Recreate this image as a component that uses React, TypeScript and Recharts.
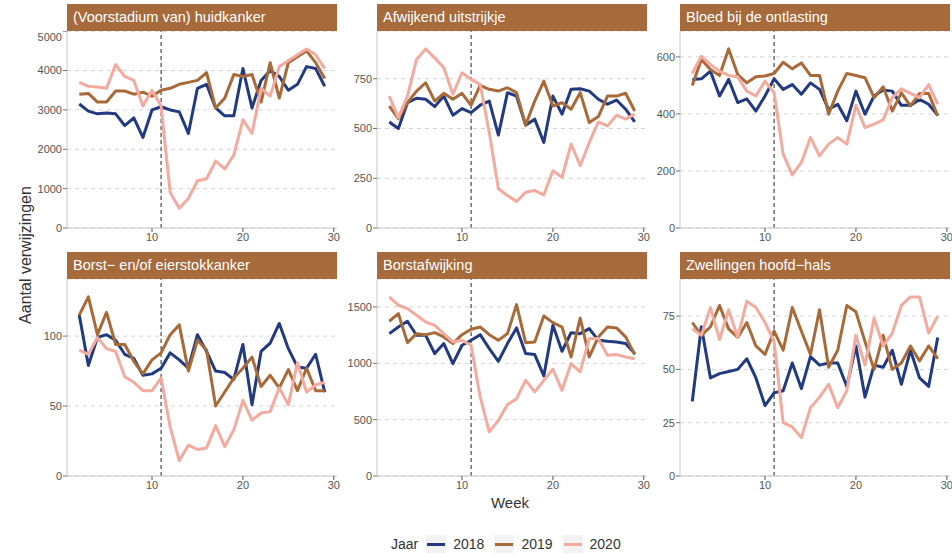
import {
  CartesianGrid,
  Line,
  LineChart,
  ReferenceLine,
  XAxis,
  YAxis,
} from "recharts";

const weeks = [2, 3, 4, 5, 6, 7, 8, 9, 10, 11, 12, 13, 14, 15, 16, 17, 18, 19, 20, 21, 22, 23, 24, 25, 26, 27, 28, 29];
const years = ["2018", "2019", "2020"];

const huid2018 = [3150, 2970, 2900, 2920, 2900, 2600, 2800, 2300, 3000, 3080, 3000, 2950, 2400, 3550, 3650, 3050, 2850, 2850, 4050, 3050, 3750, 4000, 3850, 3500, 3650, 4100, 4050, 3600];
const huid2019 = [3400, 3420, 3200, 3200, 3480, 3480, 3400, 3450, 3350, 3500, 3550, 3650, 3700, 3750, 3950, 3050, 3300, 3900, 3850, 3900, 3200, 4200, 3300, 4200, 4350, 4500, 4200, 3800];
const huid2020 = [3700, 3600, 3580, 3550, 4150, 3850, 3750, 3100, 3500, 3100, 900, 500, 750, 1200, 1250, 1700, 1500, 1850, 2750, 2400, 3550, 3350, 4100, 4250, 4400, 4550, 4400, 4050];

const uitstrijk2018 = [533, 500, 630, 652, 647, 610, 663, 567, 600, 580, 617, 638, 467, 680, 663, 517, 547, 430, 663, 572, 697, 700, 688, 647, 622, 643, 597, 533];
const uitstrijk2019 = [613, 550, 630, 688, 730, 638, 677, 647, 677, 617, 717, 697, 688, 705, 680, 517, 638, 738, 613, 630, 597, 680, 530, 560, 663, 663, 677, 588];
const uitstrijk2020 = [663, 555, 663, 847, 900, 855, 805, 672, 780, 747, 722, 480, 197, 163, 133, 180, 188, 167, 288, 255, 422, 313, 430, 533, 513, 567, 547, 572];

const bloed2018 = [521, 523, 550, 463, 521, 440, 453, 410, 463, 523, 486, 503, 469, 509, 486, 416, 434, 376, 480, 399, 463, 484, 480, 430, 430, 451, 434, 395];
const bloed2019 = [500, 591, 556, 535, 628, 538, 509, 530, 533, 542, 581, 558, 579, 535, 535, 399, 480, 542, 535, 527, 457, 495, 410, 474, 428, 472, 472, 393];
const bloed2020 = [542, 602, 573, 550, 535, 530, 480, 463, 515, 474, 259, 186, 230, 317, 253, 294, 317, 294, 430, 352, 364, 379, 457, 488, 472, 457, 503, 434];

const borst2018 = [115, 79, 99, 101, 97, 87, 84, 72, 73, 77, 88, 83, 77, 101, 89, 75, 74, 69, 94, 51, 89, 95, 109, 91, 78, 77, 87, 60];
const borst2019 = [115, 128, 101, 117, 94, 94, 82, 73, 83, 88, 101, 108, 75, 97, 90, 50, 60, 70, 77, 85, 64, 72, 63, 76, 61, 77, 61, 61];
const borst2020 = [90, 87, 99, 91, 89, 71, 67, 61, 61, 70, 35, 11, 22, 19, 20, 36, 21, 33, 54, 40, 45, 46, 63, 51, 81, 60, 65, 67];

const borstafw2018 = [1263, 1322, 1373, 1249, 1249, 1086, 1175, 997, 1160, 1204, 1254, 1130, 1018, 1175, 1314, 1086, 1077, 888, 1337, 1107, 1272, 1263, 1308, 1204, 1195, 1189, 1175, 1086];
const borstafw2019 = [1373, 1441, 1183, 1263, 1254, 1272, 1234, 1175, 1254, 1302, 1322, 1254, 1204, 1263, 1521, 1183, 1189, 1420, 1361, 1322, 1056, 1402, 1056, 1234, 1322, 1314, 1234, 1077];
const borstafw2020 = [1589, 1515, 1485, 1426, 1367, 1337, 1263, 1189, 1204, 1160, 701, 391, 494, 633, 686, 849, 746, 849, 947, 760, 997, 923, 1219, 1219, 1071, 1077, 1056, 1041];

const zwel2018 = [35, 70, 46, 48, 49, 50, 55, 46, 33, 39, 40, 53, 41, 56, 52, 53, 53, 42, 61, 37, 52, 51, 59, 43, 59, 46, 42, 65];
const zwel2019 = [72, 66, 70, 80, 69, 65, 72, 61, 57, 68, 59, 79, 68, 57, 78, 51, 59, 80, 77, 63, 50, 66, 50, 53, 61, 54, 61, 55];
const zwel2020 = [69, 66, 79, 64, 78, 65, 82, 79, 72, 63, 25, 23, 18, 32, 37, 43, 32, 40, 66, 52, 74, 61, 67, 80, 84, 84, 67, 75];

const panelTitles = [
  "(Voorstadium van) huidkanker",
  "Afwijkend uitstrijkje",
  "Bloed bij de ontlasting",
  "Borst\u2212 en/of eierstokkanker",
  "Borstafwijking",
  "Zwellingen hoofd\u2212hals",
];
const panelTicks = [
  [0, 1000, 2000, 3000, 4000, 5000],
  [0, 250, 500, 750],
  [0, 200, 400, 600],
  [0, 50, 100],
  [0, 500, 1000, 1500],
  [0, 25, 50, 75],
];
const panelSeries = [
  [huid2018, huid2019, huid2020],
  [uitstrijk2018, uitstrijk2019, uitstrijk2020],
  [bloed2018, bloed2019, bloed2020],
  [borst2018, borst2019, borst2020],
  [borstafw2018, borstafw2019, borstafw2020],
  [zwel2018, zwel2019, zwel2020],
];
const xTicks = [10, 20, 30];
const lockdownWeek = 11;

const COLORS = ["#213a80", "#a86a38", "#f3aa9f"];
const STRIP = "#a66a3b";
const FONT = '"Liberation Sans", Arial, sans-serif';

const COL_LEFT = [67, 377, 680];
const ROW_STRIP = [4, 252];
const PLOT_W = 270;
const PLOT_H = 197;
const STRIP_H = 27;
const Y_AXIS_W = 45;
const X_AXIS_H = 25;

const Panel = ({ index }: { index: number }) => {
  const series = panelSeries[index];
  const data = weeks.map((week, i) => ({
    week,
    y2018: series[0][i],
    y2019: series[1][i],
    y2020: series[2][i],
  }));
  const yMax = Math.max(...series.flat()) * 1.1;
  const col = index % 3;
  const row = Math.floor(index / 3);
  const left = COL_LEFT[col];
  const stripTop = ROW_STRIP[row];

  return (
    <>
      <div
        style={{
          position: "absolute",
          left,
          top: stripTop,
          width: PLOT_W,
          height: STRIP_H,
          background: STRIP,
          color: "#ffffff",
          fontSize: 14.5,
          lineHeight: `${STRIP_H}px`,
          paddingLeft: 6,
          boxSizing: "border-box",
          whiteSpace: "nowrap",
        }}
      >
        {panelTitles[index]}
      </div>
      <div
        style={{
          position: "absolute",
          left: left - Y_AXIS_W,
          top: stripTop + STRIP_H,
        }}
      >
        <LineChart
          width={Y_AXIS_W + PLOT_W + 5}
          height={PLOT_H + X_AXIS_H}
          data={data}
          margin={{ top: 0, right: 5, bottom: 0, left: 0 }}
        >
          <CartesianGrid
            vertical={false}
            stroke="#d3d3d3"
            strokeDasharray="4 4"
          />
          <XAxis
            dataKey="week"
            type="number"
            domain={[0.65, 30.35]}
            ticks={xTicks}
            height={X_AXIS_H}
            tickSize={4}
            tickMargin={1}
            stroke="#555555"
            axisLine={{ stroke: "#c8c8c8" }}
            tickLine={{ stroke: "#555555" }}
            tick={{ fill: "#555555", fontSize: 11, fontFamily: FONT }}
            allowDataOverflow
          />
          <YAxis
            type="number"
            domain={[0, yMax]}
            ticks={panelTicks[index]}
            width={Y_AXIS_W}
            tickSize={4}
            tickMargin={1}
            stroke="#555555"
            axisLine={{ stroke: "#c8c8c8" }}
            tickLine={{ stroke: "#777777" }}
            tick={{ fill: "#555555", fontSize: 11, fontFamily: FONT }}
            allowDataOverflow
          />
          <ReferenceLine
            x={lockdownWeek}
            stroke="#222222"
            strokeDasharray="4 3"
            strokeWidth={1}
          />
          {years.map((year, i) => (
            <Line
              key={year}
              dataKey={`y${year}`}
              stroke={COLORS[i]}
              strokeWidth={3}
              dot={false}
              activeDot={false}
              isAnimationActive={false}
              strokeLinejoin="round"
            />
          ))}
        </LineChart>
      </div>
    </>
  );
};

export default function App() {
  return (
    <div
      style={{
        position: "absolute",
        left: 0,
        top: 0,
        width: 952,
        height: 558,
        overflow: "hidden",
        background: "#ffffff",
        fontFamily: FONT,
      }}
    >
      {panelTitles.map((_, i) => (
        <Panel key={i} index={i} />
      ))}
      <div
        style={{
          position: "absolute",
          left: 26,
          top: 255,
          transform: "translate(-50%, -50%) rotate(-90deg)",
          fontSize: 16,
          color: "#333333",
          whiteSpace: "nowrap",
        }}
      >
        Aantal verwijzingen
      </div>
      <div
        style={{
          position: "absolute",
          left: 510,
          top: 502,
          transform: "translate(-50%, -50%)",
          fontSize: 15,
          color: "#333333",
        }}
      >
        Week
      </div>
      <div
        style={{
          position: "absolute",
          left: 391,
          top: 534,
          height: 20,
          display: "flex",
          alignItems: "center",
          fontSize: 14,
          color: "#333333",
        }}
      >
        <span style={{ marginRight: 8 }}>Jaar</span>
        {years.map((year, i) => (
          <span
            key={year}
            style={{ display: "flex", alignItems: "center", marginRight: 10 }}
          >
            <span
              style={{
                width: 20,
                height: 18,
                background: "#f2f2f2",
                display: "flex",
                alignItems: "center",
                justifyContent: "center",
                marginRight: 7,
              }}
            >
              <span style={{ width: 18, height: 3, background: COLORS[i] }} />
            </span>
            {year}
          </span>
        ))}
      </div>
    </div>
  );
}
